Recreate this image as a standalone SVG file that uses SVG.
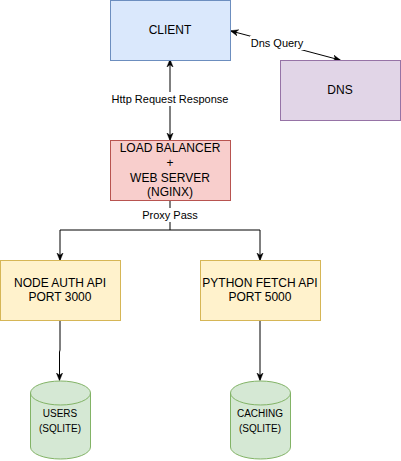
<svg xmlns="http://www.w3.org/2000/svg" width="401" height="461" viewBox="0 0 401 461">
<style>
text{font-family:"Liberation Sans",Arial,sans-serif;font-size:12px;fill:#000;text-anchor:middle;dominant-baseline:central}
.lbl{font-size:11px}
.db{font-size:10px}
.c{fill:none;stroke:#000;stroke-width:1}
</style>
<defs>
<marker id="ah" viewBox="0 0 10 10" refX="9" refY="5" markerWidth="8" markerHeight="8" orient="auto-start-reverse" markerUnits="userSpaceOnUse">
<path d="M0,1 L10,5 L0,9 L3,5 Z" fill="#000" stroke="#000" stroke-width="0.5"/>
</marker>
</defs>
<rect width="401" height="461" fill="#fff"/>
<g id="connectors">
<path class="c" d="M231,31 L340,60" marker-start="url(#ah)" marker-end="url(#ah)"/>
<rect x="250" y="36" width="56" height="14" fill="#fff"/>
<text class="lbl" x="277" y="43">Dns Query</text>
<path class="c" d="M170,140 L170,60" marker-start="url(#ah)" marker-end="url(#ah)"/>
<rect x="110" y="92" width="120" height="14" fill="#fff"/>
<text class="lbl" x="170" y="99">Http Request Response</text>
<path class="c" d="M170,200 L170,230 L60,230 L60,260" marker-end="url(#ah)"/>
<path class="c" d="M170,230 L260,230 L260,260" marker-end="url(#ah)"/>
<rect x="140" y="208" width="60" height="14" fill="#fff"/>
<text class="lbl" x="170" y="215">Proxy Pass</text>
<path class="c" d="M60,320 L60,350 L59.5,352 L59.5,380" marker-end="url(#ah)"/>
<path class="c" d="M260,320 L260,380" marker-end="url(#ah)"/>
</g>
<g id="client">
<rect x="110.5" y="0.5" width="120" height="60" fill="#dae8fc" stroke="#6c8ebf"/>
<text x="170" y="30">CLIENT</text>
</g>
<g id="dns">
<rect x="280.5" y="60.5" width="120" height="60" fill="#e1d5e7" stroke="#9673a6"/>
<text x="340" y="90">DNS</text>
</g>
<g id="lb">
<rect x="110.5" y="140.5" width="120" height="60" fill="#f8cecc" stroke="#b85450"/>
<text x="170" y="148">LOAD BALANCER</text>
<text x="170" y="163">+</text>
<text x="170" y="178">WEB SERVER</text>
<text x="170" y="192">(NGINX)</text>
</g>
<g id="node-auth">
<rect x="0.5" y="260.5" width="120" height="60" fill="#fff2cc" stroke="#d6b656"/>
<text x="60" y="283">NODE AUTH API</text>
<text x="60" y="297">PORT 3000</text>
</g>
<g id="python-fetch">
<rect x="200.5" y="260.5" width="120" height="60" fill="#fff2cc" stroke="#d6b656"/>
<text x="260" y="283">PYTHON FETCH API</text>
<text x="260" y="297">PORT 5000</text>
</g>
<g id="users">
<path d="M30.5,393 A30,12 0 0 1 90.5,393 L90.5,447 A30,12 0 0 1 30.5,447 Z" fill="#d5e8d4" stroke="#82b366"/>
<path d="M30.5,393 A30,12 0 0 0 90.5,393" fill="none" stroke="#82b366"/>
<text class="db" x="60" y="413">USERS</text>
<text class="db" x="60" y="428">(SQLITE)</text>
</g>
<g id="caching">
<path d="M230.5,393 A30,12 0 0 1 290.5,393 L290.5,447 A30,12 0 0 1 230.5,447 Z" fill="#d5e8d4" stroke="#82b366"/>
<path d="M230.5,393 A30,12 0 0 0 290.5,393" fill="none" stroke="#82b366"/>
<text class="db" x="260" y="413">CACHING</text>
<text class="db" x="260" y="428">(SQLITE)</text>
</g>
</svg>
